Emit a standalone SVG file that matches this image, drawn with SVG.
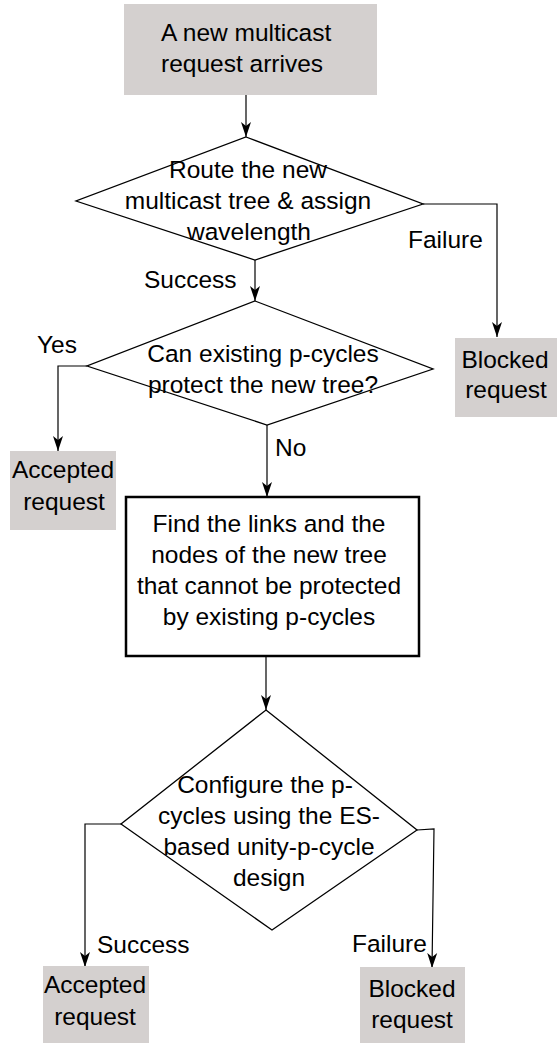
<svg xmlns="http://www.w3.org/2000/svg" width="557" height="1045" viewBox="0 0 557 1045">
<style>
text{font-family:"Liberation Sans",Arial,sans-serif;font-size:24.5px;fill:#000}
.c{text-anchor:middle}
.term{fill:#d4d0cf;stroke:none}
.dia{fill:#fff;stroke:#000;stroke-width:1.3}
.proc{fill:#fff;stroke:#000;stroke-width:2.5}
.conn{fill:none;stroke:#000;stroke-width:1.2}
</style>
<defs>
<marker id="arr" markerUnits="userSpaceOnUse" markerWidth="16" markerHeight="12" viewBox="0 0 16 12" refX="15" refY="6" orient="auto">
<path d="M0,1 L15,6 L0,11 L4,6 z" fill="#000"/>
</marker>
</defs>
<rect width="557" height="1045" fill="#fff"/>
<g id="connectors">
<path class="conn" d="M246,95 V137" marker-end="url(#arr)"/>
<path class="conn" d="M423,204 H497 V337" marker-end="url(#arr)"/>
<path class="conn" d="M255,260 V301" marker-end="url(#arr)"/>
<path class="conn" d="M87,366 H58 V451" marker-end="url(#arr)"/>
<path class="conn" d="M267,425 V497" marker-end="url(#arr)"/>
<path class="conn" d="M266,656 V710" marker-end="url(#arr)"/>
<path class="conn" d="M121,824 H85 V967" marker-end="url(#arr)"/>
<path class="conn" d="M417,830 L434,829 L432,968" marker-end="url(#arr)"/>
</g>
<g id="labels">
<text x="408" y="248">Failure</text>
<text x="144" y="288">Success</text>
<text x="37" y="353">Yes</text>
<text x="275" y="456">No</text>
<text x="97" y="953">Success</text>
<text x="352" y="952">Failure</text>
</g>
<g id="start">
<rect class="term" x="124" y="4" width="253" height="91"/>
<text x="161" y="41">A new multicast</text>
<text x="161" y="72">request arrives</text>
</g>
<g id="route">
<polygon class="dia" points="246,137 423,204 255,260 76,201"/>
<text class="c" x="248" y="178">Route the new</text>
<text class="c" x="248" y="209">multicast tree &amp; assign</text>
<text class="c" x="249" y="240">wavelength</text>
</g>
<g id="blocked1">
<rect class="term" x="455" y="338" width="102" height="79"/>
<text class="c" x="505" y="368">Blocked</text>
<text class="c" x="506" y="398">request</text>
</g>
<g id="canprotect">
<polygon class="dia" points="255,301 433,369 267,425 87,366"/>
<text class="c" x="263" y="362">Can existing p-cycles</text>
<text class="c" x="263" y="393">protect the new tree?</text>
</g>
<g id="accepted1">
<rect class="term" x="10" y="451" width="106" height="79"/>
<text class="c" x="63" y="478">Accepted</text>
<text class="c" x="64" y="510">request</text>
</g>
<g id="find">
<rect class="proc" x="126" y="497" width="293" height="159"/>
<text class="c" x="269" y="532">Find the links and the</text>
<text class="c" x="269" y="563">nodes of the new tree</text>
<text class="c" x="269" y="594">that cannot be protected</text>
<text class="c" x="269" y="625">by existing p-cycles</text>
</g>
<g id="configure">
<polygon class="dia" points="266,710 417,830 272,930 121,824"/>
<text class="c" x="265" y="793">Configure the p-</text>
<text class="c" x="269" y="824">cycles using the ES-</text>
<text class="c" x="269" y="855">based unity-p-cycle</text>
<text class="c" x="269" y="886">design</text>
</g>
<g id="accepted2">
<rect class="term" x="43" y="966" width="106" height="77"/>
<text class="c" x="95" y="993">Accepted</text>
<text class="c" x="95" y="1025">request</text>
</g>
<g id="blocked2">
<rect class="term" x="360" y="967" width="105" height="76"/>
<text class="c" x="412" y="997">Blocked</text>
<text class="c" x="412" y="1028">request</text>
</g>
</svg>
